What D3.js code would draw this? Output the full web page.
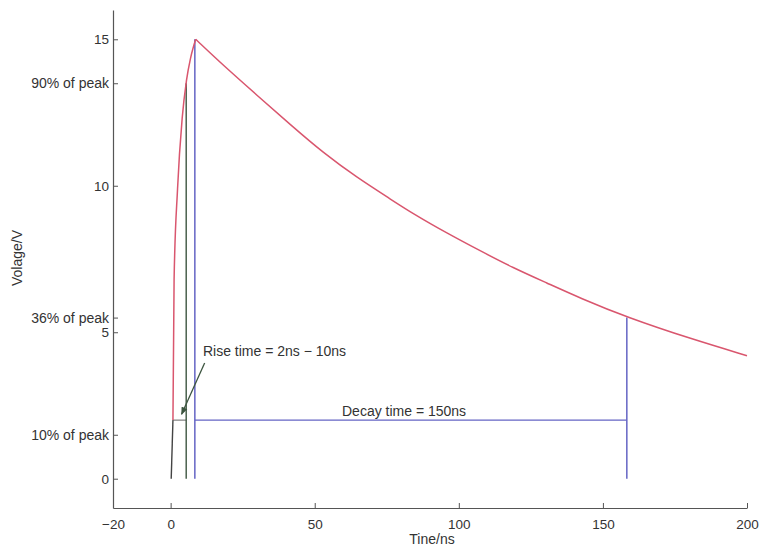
<!DOCTYPE html>
<html>
<head>
<meta charset="utf-8">
<script src="https://cdn.jsdelivr.net/npm/d3@7"></script>
<style>
  html, body { margin: 0; padding: 0; background: #fff; }
  svg text { font-family: "Liberation Sans", Arial, sans-serif; fill: #333; }
</style>
</head>
<body>
<svg id="chart" width="759" height="547"></svg>
<script>
// ---- Data ----
const xTicks = [-20, 0, 50, 100, 150, 200];
const yTickValues = [0, 1.5, 5, 5.5, 10, 13.5, 15];
const yTickLabels = ["0", "10% of peak", "5", "36% of peak", "10", "90% of peak", "15"];

// foot of the pulse (dark segment)
const footTime = [0.2, 0.8];
const footVolt = [0, 2];

// rising edge (red)
const riseTime = [0.8, 1.2, 2.4, 4.0, 5.5, 6.9, 8.7];
const riseVolt = [2.0, 6.8, 9.9, 12.3, 13.6, 14.35, 15.0];

// decay (red)
const decayTime = [8.7, 18.4, 30.1, 41.6, 53, 64.8, 76.2, 84.2, 95.9, 107.4, 118.8, 130.6, 142, 158.3, 181, 200];
const decayVolt = [15.0, 14.1, 13.08, 12.08, 11.12, 10.27, 9.55, 9.04, 8.38, 7.78, 7.2, 6.68, 6.17, 5.51, 4.76, 4.2];

// marker lines
const riseStartTime = 0.8;
const rise90Time = 5.4;
const rise90Volt = 13.5;
const peakTime = 8.4;
const peakVolt = 15;
const decayEndTime = 158.3;
const decayEndVolt = 5.5;
const measureLevel = 2.0;

// annotations
const riseLabel = "Rise time = 2ns \u2212 10ns";
const riseLabelPos = [11.2, 4.2];
const arrowFrom = [11.8, 3.95];
const arrowTo = [3.8, 2.2];
const decayLabel = "Decay time = 150ns";
const decayLabelPos = [81, 2.15];

const xLabel = "Tine/ns";
const yLabel = "Volage/V";

// ---- Drawing ----
const svg = d3.select("#chart");
const x = d3.scaleLinear().domain([-20, 200]).range([113, 747]);
const y = d3.scaleLinear().domain([-1, 16]).range([508, 10]);

const axisColor = "#555";
const red = "#d9566e";
const blue = "#6464c4";
const green = "#3d5540";
const dark = "#444";

// Axes
const xAxis = d3.axisBottom(x).tickValues(xTicks).tickSizeInner(-5).tickSizeOuter(0)
  .tickPadding(11).tickFormat(d => d < 0 ? "\u2212" + Math.abs(d) : d);
const gx = svg.append("g").attr("transform", `translate(0,${y(-1)})`).call(xAxis);
gx.selectAll("text").style("font-size", "13.5px").attr("fill", "#333");

const yAxis = d3.axisLeft(y).tickValues(yTickValues).tickSizeInner(-5).tickSizeOuter(0)
  .tickPadding(4).tickFormat((d, i) => yTickLabels[i]);
const gy = svg.append("g").attr("transform", `translate(${x(-20)},0)`).call(yAxis);
gy.selectAll("text").attr("fill", "#333")
  .style("font-size", (d, i) => /peak/.test(yTickLabels[i]) ? "14px" : "13.5px");

[gx, gy].forEach(g => {
  g.select(".domain").attr("stroke", axisColor).attr("stroke-width", 1.2);
  g.selectAll(".tick line").attr("stroke", axisColor).attr("stroke-width", 1);
});

// Axis labels
svg.append("text").attr("x", 432).attr("y", 544).attr("text-anchor", "middle")
  .style("font-size", "14px").text(xLabel);
svg.append("text").attr("transform", `translate(22,${258}) rotate(-90)`)
  .attr("text-anchor", "middle").style("font-size", "14px").text(yLabel);

// Marker lines
function seg(x1, y1, x2, y2, color, w) {
  svg.append("line").attr("x1", x(x1)).attr("y1", y(y1)).attr("x2", x(x2)).attr("y2", y(y2))
    .attr("stroke", color).attr("stroke-width", w || 1.3);
}
seg(riseStartTime, measureLevel, rise90Time, measureLevel, "#666", 1);
seg(peakTime, measureLevel, decayEndTime, measureLevel, blue, 1.2);
seg(rise90Time, 0, rise90Time, rise90Volt, green, 1.4);
seg(peakTime, 0, peakTime, peakVolt, blue, 1.5);
seg(decayEndTime, 0, decayEndTime, decayEndVolt, blue, 1.5);

// pulse foot
const line = d3.line().x(d => x(d[0])).y(d => y(d[1]));
svg.append("path").datum(footTime.map((t, i) => [t, footVolt[i]]))
  .attr("d", line).attr("fill", "none").attr("stroke", dark).attr("stroke-width", 1.4);

// pulse curve: rise and decay drawn as separate smooth pieces (sharp peak)
const curve = d3.line().x(d => x(d[0])).y(d => y(d[1])).curve(d3.curveMonotoneX);
svg.append("path").datum(riseTime.map((t, i) => [t, riseVolt[i]]))
  .attr("d", curve).attr("fill", "none").attr("stroke", red).attr("stroke-width", 1.5);
const smooth = d3.line().x(d => x(d[0])).y(d => y(d[1])).curve(d3.curveBasis);
svg.append("path").datum(decayTime.map((t, i) => [t, decayVolt[i]]))
  .attr("d", smooth).attr("fill", "none").attr("stroke", red).attr("stroke-width", 1.5);

// Arrow
svg.append("defs").append("marker").attr("id", "ah").attr("viewBox", "0 0 10 10")
  .attr("refX", 9).attr("refY", 5).attr("markerWidth", 6).attr("markerHeight", 6)
  .attr("orient", "auto").append("path").attr("d", "M0,1 L10,5 L0,9 Z").attr("fill", green);
svg.append("line").attr("x1", x(arrowFrom[0])).attr("y1", y(arrowFrom[1]))
  .attr("x2", x(arrowTo[0])).attr("y2", y(arrowTo[1]))
  .attr("stroke", green).attr("stroke-width", 1.3).attr("marker-end", "url(#ah)");

// Annotation text
svg.append("text").attr("x", x(riseLabelPos[0])).attr("y", y(riseLabelPos[1]))
  .style("font-size", "14px").text(riseLabel);
svg.append("text").attr("x", x(decayLabelPos[0])).attr("y", y(decayLabelPos[1]))
  .attr("text-anchor", "middle").style("font-size", "14px").text(decayLabel);
</script>
</body>
</html>
